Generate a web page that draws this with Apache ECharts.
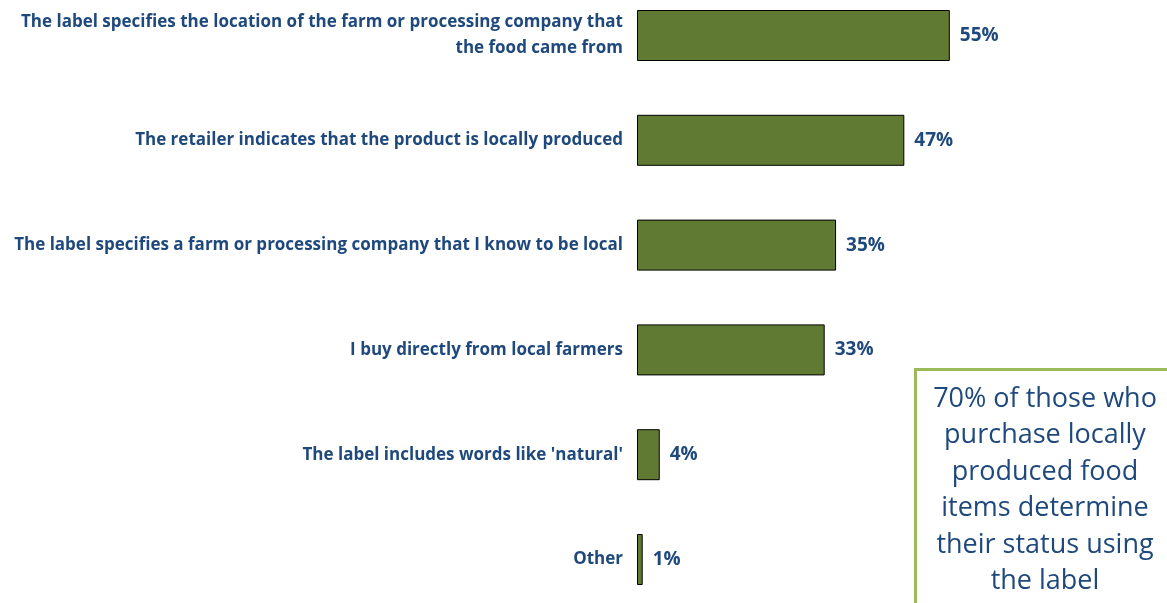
<!DOCTYPE html>
<html>
<head>
<meta charset="utf-8">
<script src="https://cdn.jsdelivr.net/npm/echarts@6/dist/echarts.min.js"></script>
<style>
  html, body { margin: 0; padding: 0; background: #ffffff; }
  #chart { width: 1167px; height: 603px; }
</style>
</head>
<body>
<div id="chart"></div>
<script>
// How shoppers identify locally produced food
const categories = [
  'The label specifies the location of the farm or processing company that\nthe food came from',
  'The retailer indicates that the product is locally produced',
  'The label specifies a farm or processing company that I know to be local',
  'I buy directly from local farmers',
  "The label includes words like 'natural'",
  'Other'
];
const shares = [55, 47, 35, 33, 4, 1];
const calloutLines = [
  '70% of those who',
  'purchase locally',
  'produced food',
  'items determine',
  'their status using',
  'the label'
];

const textBlue = '#1F497D';
const barGreen = '#617A33';
const fontFamily = '"Open Sans", "Noto Sans", sans-serif';

const chart = echarts.init(document.getElementById('chart'));
chart.setOption({
  animation: false,
  backgroundColor: '#ffffff',
  // Category centres sit on the grid edges (boundaryGap off)
  grid: { left: 637, width: 455, top: 35.5, height: 524, containLabel: false },
  xAxis: {
    type: 'value', min: 0, max: 80,
    show: false
  },
  yAxis: {
    type: 'category',
    inverse: true,
    boundaryGap: false,
    data: categories,
    axisLine: { show: false },
    axisTick: { show: false },
    splitLine: { show: false },
    axisLabel: {
      margin: 14,
      color: textBlue,
      fontFamily: fontFamily,
      fontWeight: 'bold',
      fontSize: 17,
      lineHeight: 26,
      align: 'right'
    }
  },
  series: [{
    type: 'bar',
    data: shares,
    barWidth: 51,
    itemStyle: { color: barGreen, borderColor: '#000000', borderWidth: 1 },
    label: {
      show: true,
      position: 'right',
      distance: 10,
      formatter: '{c}%',
      color: textBlue,
      fontFamily: fontFamily,
      fontWeight: 'bold',
      fontSize: 19
    }
  }],
  graphic: [{
    type: 'group',
    left: 914,
    top: 368,
    children: [{
      type: 'rect',
      shape: { x: 1.5, y: 1.5, width: 262, height: 250 },
      style: { fill: '#ffffff', stroke: '#9BBB59', lineWidth: 3 }
    }, {
      type: 'text',
      x: 131,
      y: 13,
      style: {
        text: calloutLines.join('\n'),
        align: 'center',
        verticalAlign: 'top',
        fill: textBlue,
        font: '27px ' + fontFamily,
        lineHeight: 36.5
      }
    }]
  }]
});
</script>
</body>
</html>
